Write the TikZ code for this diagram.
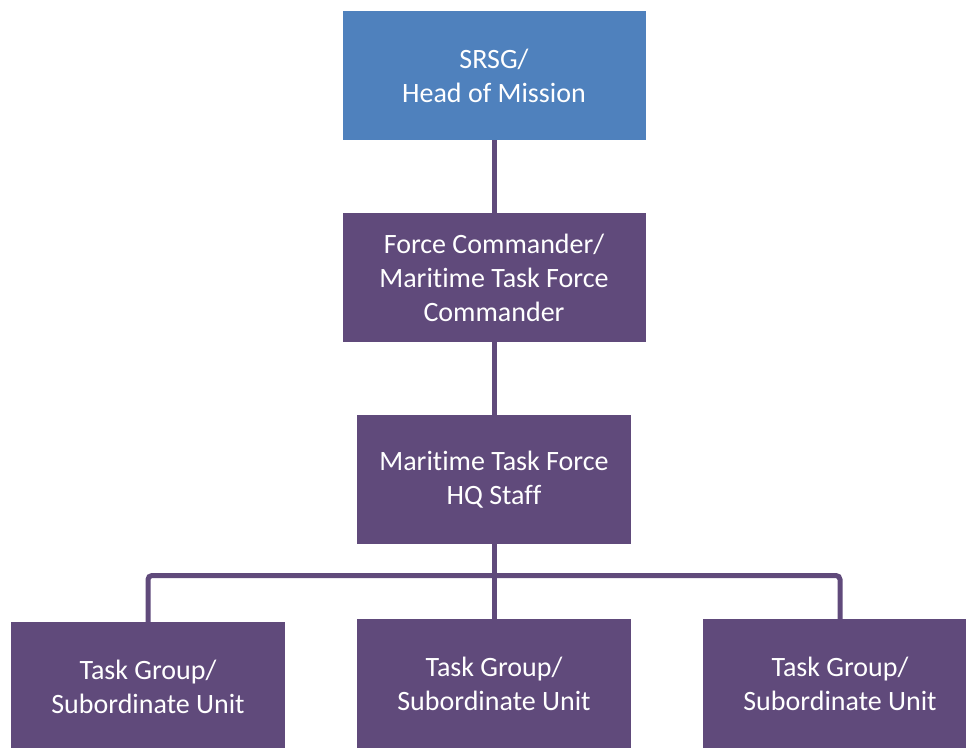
\documentclass[tikz,border=0pt]{standalone}
\usepackage{fontspec}
\setmainfont{Carlito}[Ligatures={NoCommon}]
\definecolor{boxblue}{HTML}{4F81BD}
\definecolor{boxpurple}{HTML}{604A7B}
\begin{document}
\begin{tikzpicture}[x=1pt,y=-1pt,
  orgbox/.style={rectangle, inner sep=0pt, minimum height=129pt, text=white,
    align=center, font=\fontsize{28}{34}\selectfont},
  widebox/.style={orgbox, minimum width=303pt},
  narrowbox/.style={orgbox, minimum width=274pt},
  conn/.style={draw=boxpurple, line width=5pt}]
\useasboundingbox (0,0) rectangle (966,747);
\begin{scope}
\clip (0,0) rectangle (966,747);
\node[widebox, fill=boxblue] (srsg) at (494,75.5) {SRSG/\\Head of Mission};
\node[widebox, fill=boxpurple] (fc) at (494,277.5) {Force Commander/\\Maritime Task Force\\Commander};
\node[narrowbox, fill=boxpurple] (hq) at (494,479.5) {Maritime Task Force\\HQ Staff};
\node[narrowbox, fill=boxpurple] (tg1) at (148,686.5) {Task Group/\\Subordinate Unit};
\node[narrowbox, fill=boxpurple] (tg2) at (494,683.5) {Task Group/\\Subordinate Unit};
\node[narrowbox, fill=boxpurple] (tg3) at (840,683.5) {Task Group/\\Subordinate Unit};
\coordinate (bar) at (494,575.5);
\draw[conn] (srsg.south) -- (fc.north);
\draw[conn] (fc.south) -- (hq.north);
\draw[conn] (hq.south) -- (tg2.north);
\draw[conn, rounded corners=4pt] (tg1.north) |- (bar) -| (tg3.north);
\end{scope}
\end{tikzpicture}
\end{document}
